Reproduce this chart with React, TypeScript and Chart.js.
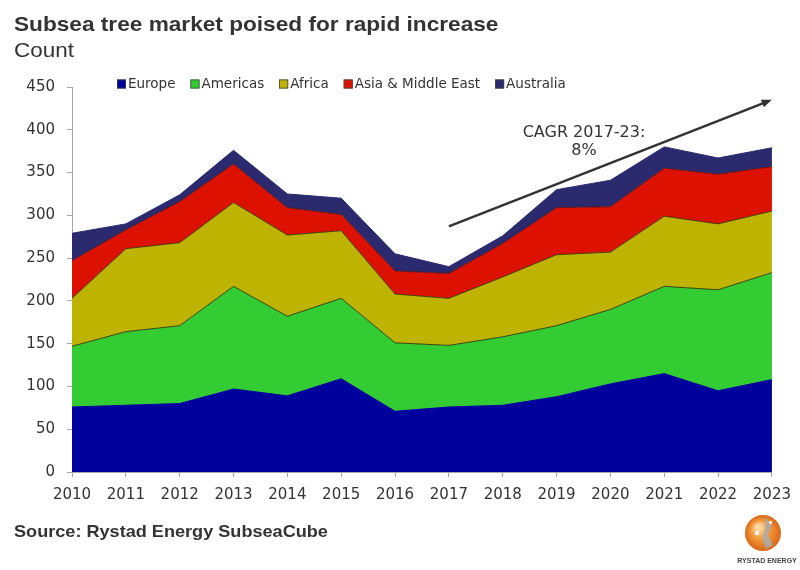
import React, { useEffect, useRef } from "react";
import { Chart, registerables } from "chart.js";

Chart.register(...registerables);

const years = ["2010", "2011", "2012", "2013", "2014", "2015", "2016", "2017", "2018", "2019", "2020", "2021", "2022", "2023"];
const europe = [76, 78, 80, 97, 89, 109, 71, 76, 78, 88, 103, 115, 95, 108];
const americas = [71, 86, 91, 120, 93, 94, 80, 72, 80, 83, 87, 102, 118, 125];
const africa = [56, 97, 97, 98, 95, 79, 57, 55, 70, 83, 67, 82, 77, 72];
const asiaMiddleEast = [44, 22, 48, 45, 32, 19, 27, 29, 39, 55, 53, 56, 58, 52];
const australia = [32, 7, 8, 16, 16, 19, 20, 8, 9, 21, 31, 25, 19, 22];
const yTicks = [0, 50, 100, 150, 200, 250, 300, 350, 400, 450];

// CAGR trend arrow: [category index, value]
const arrowStart = [7, 287];
const arrowEnd = [13, 435];
const cagrLines = ["CAGR 2017-23:", "8%"];

const TITLE = "Subsea tree market poised for rapid increase";
const SUBTITLE = "Count";
const SOURCE = "Source: Rystad Energy SubseaCube";

const TEXT = "#333333";
const AXIS = "#a6a6a6";

function wideText(ctx: any, text: string, x: number, y: number, sx: number) {
  ctx.save();
  ctx.translate(x, y);
  ctx.scale(sx, 1);
  ctx.fillText(text, 0, 0);
  ctx.restore();
}

const decorPlugin = {
  id: "decor",
  afterDraw(chart: any) {
    const ctx: any = chart.ctx;
    const xs = chart.scales.x;
    const ys = chart.scales.y;
    ctx.save();

    // Title & subtitle
    ctx.fillStyle = TEXT;
    ctx.textAlign = "left";
    ctx.textBaseline = "alphabetic";
    ctx.font = "bold 21px 'Liberation Sans', Arial, sans-serif";
    wideText(ctx, TITLE, 14, 31, 1.078);
    ctx.font = "21px 'Liberation Sans', Arial, sans-serif";
    wideText(ctx, SUBTITLE, 14, 57, 1.07);

    // Legend
    ctx.font = "13.5px 'DejaVu Sans', Verdana, sans-serif";
    ctx.textBaseline = "middle";
    let lx = 117;
    const ly = 84;
    chart.data.datasets.forEach((ds: any) => {
      ctx.fillStyle = ds.backgroundColor;
      ctx.fillRect(lx, ly - 4.5, 9, 9);
      ctx.strokeStyle = "#444";
      ctx.lineWidth = 0.8;
      ctx.strokeRect(lx + 0.4, ly - 4.1, 8.2, 8.2);
      ctx.fillStyle = TEXT;
      ctx.fillText(ds.label, lx + 11, ly + 0.5);
      lx += 11 + ctx.measureText(ds.label).width + 15;
    });

    // CAGR arrow
    const x0 = xs.getPixelForValue(arrowStart[0]);
    const y0 = ys.getPixelForValue(arrowStart[1]);
    const x1 = xs.getPixelForValue(arrowEnd[0]);
    const y1 = ys.getPixelForValue(arrowEnd[1]);
    const ang = Math.atan2(y1 - y0, x1 - x0);
    const head = 11;
    ctx.strokeStyle = "#333";
    ctx.lineWidth = 2.5;
    ctx.beginPath();
    ctx.moveTo(x0, y0);
    ctx.lineTo(x1 - Math.cos(ang) * head * 0.7, y1 - Math.sin(ang) * head * 0.7);
    ctx.stroke();
    ctx.fillStyle = "#333";
    ctx.beginPath();
    ctx.moveTo(x1, y1);
    ctx.lineTo(x1 - head * Math.cos(ang - 0.38), y1 - head * Math.sin(ang - 0.38));
    ctx.lineTo(x1 - head * Math.cos(ang + 0.38), y1 - head * Math.sin(ang + 0.38));
    ctx.closePath();
    ctx.fill();

    // CAGR text
    ctx.fillStyle = TEXT;
    ctx.textAlign = "center";
    ctx.textBaseline = "middle";
    ctx.font = "16px 'DejaVu Sans', Verdana, sans-serif";
    ctx.fillText(cagrLines[0], 584, 132.5);
    ctx.fillText(cagrLines[1], 584, 151);

    // Source
    ctx.textAlign = "left";
    ctx.textBaseline = "alphabetic";
    ctx.font = "bold 17px 'Liberation Sans', Arial, sans-serif";
    wideText(ctx, SOURCE, 14, 537, 1.065);

    // Logo
    const cx = 763, cy = 533, r = 18;
    const g = ctx.createRadialGradient(cx - 5, cy - 6, 2, cx, cy, r);
    g.addColorStop(0, "#ffd9a8");
    g.addColorStop(0.45, "#f39a3a");
    g.addColorStop(1, "#d9661a");
    ctx.fillStyle = g;
    ctx.beginPath();
    ctx.arc(cx, cy, r, 0, Math.PI * 2);
    ctx.fill();
    ctx.fillStyle = "rgba(170,170,170,0.85)";
    ctx.beginPath();
    ctx.moveTo(cx + 2, cy - r + 2);
    ctx.lineTo(cx + 9, cy - 8);
    ctx.lineTo(cx + 5, cy + 2);
    ctx.lineTo(cx + 10, cy + 12);
    ctx.lineTo(cx + 3, cy + r - 2);
    ctx.lineTo(cx - 1, cy + 6);
    ctx.lineTo(cx + 2, cy - 4);
    ctx.closePath();
    ctx.fill();
    ctx.fillStyle = "rgba(255,255,255,0.8)";
    ctx.fillRect(cx - 8, cy - 2, 4, 4);
    ctx.fillRect(cx + 6, cy - 12, 3, 3);
    ctx.fillStyle = "#444";
    ctx.textAlign = "center";
    ctx.font = "bold 7px 'Liberation Sans', Arial, sans-serif";
    ctx.fillText("RYSTAD ENERGY", 767, 563);

    ctx.restore();
  },
};

export default function App() {
  const ref = useRef<HTMLCanvasElement | null>(null);

  useEffect(() => {
    document.body.style.margin = "0";
    const canvas = ref.current;
    if (!canvas) return;
    const lineBorder = "rgba(45,45,10,0.85)";
    const chart = new Chart(canvas, {
      type: "line",
      data: {
        labels: years,
        datasets: [
          { label: "Europe", data: europe, backgroundColor: "#00009c", borderColor: "#00009c", borderWidth: 1, fill: "origin" },
          { label: "Americas", data: americas, backgroundColor: "#33cc33", borderColor: lineBorder, borderWidth: 1, fill: "-1" },
          { label: "Africa", data: africa, backgroundColor: "#bdb300", borderColor: lineBorder, borderWidth: 1, fill: "-1" },
          { label: "Asia & Middle East", data: asiaMiddleEast, backgroundColor: "#dd1100", borderColor: "rgba(90,10,10,0.8)", borderWidth: 1, fill: "-1" },
          { label: "Australia", data: australia, backgroundColor: "#2b2a6e", borderColor: "#2b2a6e", borderWidth: 1, fill: "-1" },
        ],
      },
      options: {
        responsive: false,
        animation: false,
        devicePixelRatio: 1,
        layout: { padding: { top: 87, right: 28, bottom: 0, left: 0 } },
        elements: { point: { radius: 0, hoverRadius: 0 }, line: { tension: 0 } },
        plugins: {
          legend: { display: false },
          title: { display: false },
          tooltip: { enabled: false },
        },
        scales: {
          x: {
            offset: false,
            grid: { display: true, drawOnChartArea: false, drawTicks: true, tickLength: 5, color: AXIS },
            border: { display: true, color: AXIS, width: 1 },
            ticks: {
              color: TEXT,
              font: { family: "'DejaVu Sans', Verdana, sans-serif", size: 15 },
              padding: 9,
              maxRotation: 0,
              autoSkip: false,
            },
            afterFit: (scale: any) => {
              scale.height = 98;
            },
          },
          y: {
            stacked: true,
            min: 0,
            max: 450,
            afterBuildTicks: (scale: any) => {
              scale.ticks = yTicks.map((v) => ({ value: v }));
            },
            grid: { display: true, drawOnChartArea: false, drawTicks: true, tickLength: 5, color: AXIS },
            border: { display: true, color: AXIS, width: 1 },
            ticks: {
              color: TEXT,
              font: { family: "'DejaVu Sans', Verdana, sans-serif", size: 15 },
              padding: 12,
            },
            afterFit: (scale: any) => {
              scale.width = 72;
            },
          },
        },
      },
      plugins: [decorPlugin],
    });
    return () => chart.destroy();
  }, []);

  return (
    <div style={{ position: "relative", width: 800, height: 570, background: "#fff" }}>
      <canvas ref={ref} width={800} height={570} style={{ display: "block" }} />
    </div>
  );
}
